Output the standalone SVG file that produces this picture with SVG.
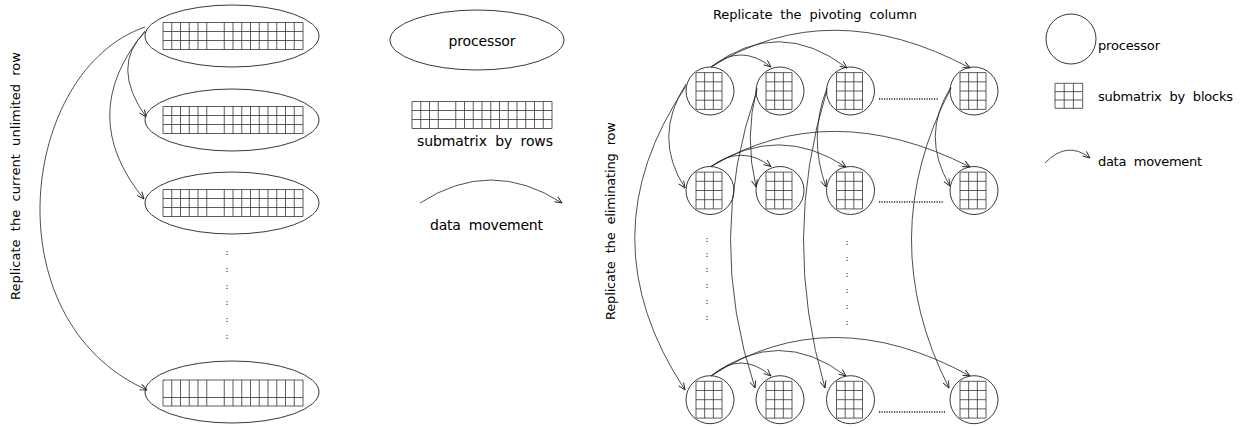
<svg xmlns="http://www.w3.org/2000/svg" width="1244" height="428" viewBox="0 0 1244 428">
<defs>
<style>
.shape{fill:none;stroke:#222;stroke-width:0.9}
.conn{fill:none;stroke:#222;stroke-width:0.8;marker-end:url(#arr)}
.dots{fill:none;stroke:#222;stroke-width:1.3;stroke-dasharray:1.2 1.3}
text{font-family:"DejaVu Sans","Liberation Sans",sans-serif;fill:#000}
.lbl{font-size:13px;word-spacing:4px}
.leg{font-size:14px;word-spacing:4px}
.leg2{font-size:13px;word-spacing:4px}
</style>
<marker id="arr" markerUnits="userSpaceOnUse" markerWidth="8" markerHeight="8" viewBox="0 0 8 8" refX="7.5" refY="4" orient="auto"><path d="M0.5,1 L7.5,4 L0.5,7" fill="none" stroke="#222" stroke-width="0.9"/></marker>
<path id="rowgrid" fill="none" stroke="#333" stroke-width="0.8" d="M0,0H140V27H0Z M0,9H140 M0,18H140 M8.75,0V27 M17.5,0V27 M26.25,0V27 M35,0V27 M43.75,0V27 M61.25,0V27 M70,0V27 M78.75,0V27 M87.5,0V27 M96.25,0V27 M105,0V27 M113.75,0V27 M122.5,0V27 M131.25,0V27"/>
<path id="rowgrid4" fill="none" stroke="#333" stroke-width="0.8" d="M0,0H140V26H0Z M0,17.5H140 M8.75,0V26 M17.5,0V26 M26.25,0V26 M35,0V26 M43.75,0V26 M61.25,0V26 M70,0V26 M78.75,0V26 M87.5,0V26 M96.25,0V26 M105,0V26 M113.75,0V26 M122.5,0V26 M131.25,0V26"/>
<path id="leggrid" fill="none" stroke="#333" stroke-width="0.8" d="M0,0H140V27H0Z M0,9H140 M0,18H140 M8.75,0V27 M17.5,0V27 M26.25,0V27 M43.75,0V27 M52.5,0V27 M61.25,0V27 M70,0V27 M78.75,0V27 M87.5,0V27 M96.25,0V27 M105,0V27 M113.75,0V27 M122.5,0V27 M131.25,0V27"/>
<path id="blk" fill="none" stroke="#333" stroke-width="0.8" d="M0,0H26V36.8H0Z M8.67,0V36.8 M17.33,0V36.8 M0,9.2H26 M0,18.4H26 M0,27.6H26"/>
<path id="blkleg" fill="none" stroke="#333" stroke-width="0.8" d="M0,0H27.7V25H0Z M9.2,0V25 M18.4,0V25 M0,8.33H27.7 M0,16.67H27.7"/>
<g id="colon" fill="#333"><circle cx="0" cy="-1.4" r="0.65"/><circle cx="0" cy="1.4" r="0.65"/></g>
</defs>

<!-- left side: processors by rows -->
<text class="lbl" transform="translate(20,300) rotate(-90)" textLength="248" lengthAdjust="spacing">Replicate the current unlimited row</text>

<g id="row-proc-1"><ellipse class="shape" cx="232" cy="36" rx="87" ry="31"/><use href="#rowgrid" x="163" y="22.5"/></g>
<g id="row-proc-2"><ellipse class="shape" cx="232" cy="120" rx="87" ry="31"/><use href="#rowgrid" x="163" y="106.5"/></g>
<g id="row-proc-3"><ellipse class="shape" cx="232" cy="203" rx="87" ry="31"/><use href="#rowgrid" x="163" y="189.5"/></g>
<g id="row-proc-4"><ellipse class="shape" cx="232" cy="392" rx="87" ry="31"/><use href="#rowgrid4" x="163" y="380"/></g>
<g id="row-dots">
<use href="#colon" x="227" y="253"/><use href="#colon" x="227" y="270"/><use href="#colon" x="227" y="287"/>
<use href="#colon" x="227" y="303"/><use href="#colon" x="227" y="320"/><use href="#colon" x="227" y="337"/>
</g>

<!-- left legend -->
<g id="legend-rows">
<g id="leg-processor"><ellipse class="shape" cx="477" cy="40" rx="87" ry="30"/><text class="leg" x="482" y="46" text-anchor="middle" textLength="67" lengthAdjust="spacing">processor</text></g>
<g id="leg-submatrix-rows"><use href="#leggrid" x="412" y="101.5"/><text class="leg" x="417" y="146" textLength="136" lengthAdjust="spacing">submatrix by rows</text></g>
<g id="leg-movement"><path class="conn" d="M420,203 Q491,157 562,203"/><text class="leg" x="430" y="230" textLength="113" lengthAdjust="spacing">data movement</text></g>
</g>

<!-- right side: processors by blocks -->
<text class="lbl" x="713" y="18.5" textLength="204" lengthAdjust="spacing">Replicate the pivoting column</text>
<text class="lbl" transform="translate(615,320) rotate(-90)" textLength="198" lengthAdjust="spacing">Replicate the eliminating row</text>

<g id="p11"><circle class="shape" cx="710" cy="91" r="24"/><use href="#blk" x="696" y="72.6"/></g>
<g id="p12"><circle class="shape" cx="780" cy="91" r="24"/><use href="#blk" x="766" y="72.6"/></g>
<g id="p13"><circle class="shape" cx="850.5" cy="91" r="24"/><use href="#blk" x="836.5" y="72.6"/></g>
<g id="p14"><circle class="shape" cx="974" cy="91" r="24"/><use href="#blk" x="960" y="72.6"/></g>
<g id="p21"><circle class="shape" cx="710" cy="190.5" r="24"/><use href="#blk" x="696" y="172.1"/></g>
<g id="p22"><circle class="shape" cx="780" cy="190.5" r="24"/><use href="#blk" x="766" y="172.1"/></g>
<g id="p23"><circle class="shape" cx="850.5" cy="190.5" r="24"/><use href="#blk" x="836.5" y="172.1"/></g>
<g id="p24"><circle class="shape" cx="974" cy="190.5" r="24"/><use href="#blk" x="960" y="172.1"/></g>
<g id="p31"><circle class="shape" cx="710" cy="399.7" r="24"/><use href="#blk" x="696" y="381.3"/></g>
<g id="p32"><circle class="shape" cx="780" cy="399.7" r="24"/><use href="#blk" x="766" y="381.3"/></g>
<g id="p33"><circle class="shape" cx="850.5" cy="399.7" r="24"/><use href="#blk" x="836.5" y="381.3"/></g>
<g id="p34"><circle class="shape" cx="974" cy="399.7" r="24"/><use href="#blk" x="960" y="381.3"/></g>

<g id="block-dots">
<path class="dots" d="M879,99H938 M879,202H943 M879,412H945"/>
<use href="#colon" x="707" y="240"/><use href="#colon" x="707" y="255"/><use href="#colon" x="707" y="270"/>
<use href="#colon" x="707" y="286"/><use href="#colon" x="707" y="302"/><use href="#colon" x="707" y="318"/>
<use href="#colon" x="847" y="243"/><use href="#colon" x="847" y="259"/><use href="#colon" x="847" y="275"/>
<use href="#colon" x="847" y="291"/><use href="#colon" x="847" y="307"/><use href="#colon" x="847" y="323"/>
</g>

<!-- right legend -->
<g id="legend-blocks">
<g id="leg2-processor"><circle class="shape" cx="1071" cy="39" r="25"/><text class="leg2" x="1098" y="50" textLength="62" lengthAdjust="spacing">processor</text></g>
<g id="leg2-submatrix"><use href="#blkleg" x="1055" y="83.3"/><text class="leg2" x="1098" y="101" textLength="135" lengthAdjust="spacing">submatrix by blocks</text></g>
<g id="leg2-movement"><path class="conn" d="M1045,163 Q1067,140 1090,158"/><text class="leg2" x="1098" y="166" textLength="104" lengthAdjust="spacing">data movement</text></g>
</g>

<!-- connectors -->
<g id="connectors">
<path class="conn" d="M145,32 Q110,66 146,117"/>
<path class="conn" d="M145,31 Q75,115 144,199"/>
<path class="conn" d="M145,27 C20,70 -10,320 147,390"/>

<path class="conn" d="M711,67 Q741,43 771,67"/>
<path class="conn" d="M711,67 Q779,16 847,68"/>
<path class="conn" d="M711,67 Q830,-7 970,68"/>
<path class="conn" d="M711,166.5 Q741,144 771,166.5"/>
<path class="conn" d="M711,166.5 Q779,123 846,167"/>
<path class="conn" d="M711,166.5 Q830,96 970,167"/>
<path class="conn" d="M711,376 Q741,350 771,376"/>
<path class="conn" d="M711,376 Q779,325 846,376"/>
<path class="conn" d="M711,376 Q830,299 970,376"/>

<path class="conn" d="M686,84 Q652,137 685,188"/>
<path class="conn" d="M686,86 Q584,237 685,390"/>
<path class="conn" d="M757,88 Q744,137 756,187"/>
<path class="conn" d="M757,90 Q705,238 755,388"/>
<path class="conn" d="M827,88 Q808,137 826,187"/>
<path class="conn" d="M827,90 Q781,238 825,388"/>
<path class="conn" d="M951,87 Q920,136 950,186"/>
<path class="conn" d="M951,88 Q873,238 949,388"/>
</g>
</svg>
